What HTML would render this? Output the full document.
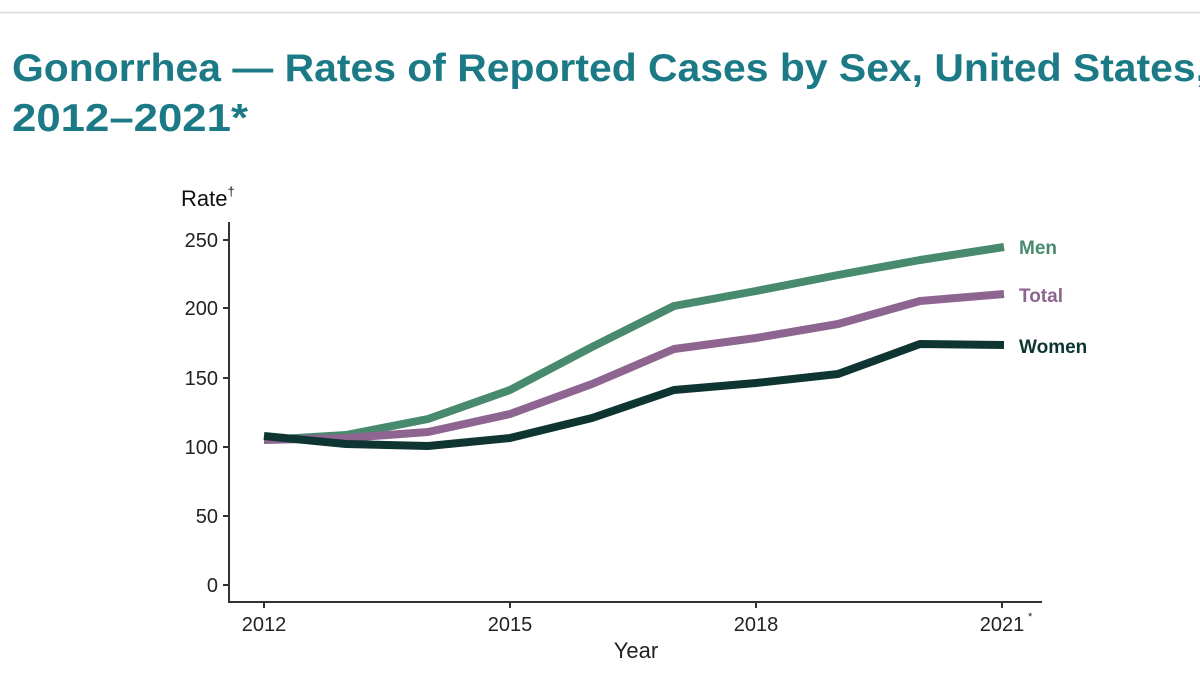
<!DOCTYPE html>
<html><head><meta charset="utf-8"><style>
html,body{margin:0;padding:0;background:#fff;}
svg{display:block;font-family:"Liberation Sans",sans-serif;}
</style></head><body>
<svg width="1200" height="675" viewBox="0 0 1200 675" xmlns="http://www.w3.org/2000/svg">
<line x1="0" y1="12.5" x2="1200" y2="12.5" stroke="#d9d9d9" stroke-width="1.5"/>
<text x="12" y="81" font-size="39" font-weight="bold" fill="#1c7a86" textLength="1195" lengthAdjust="spacingAndGlyphs">Gonorrhea — Rates of Reported Cases by Sex, United States,</text>
<text x="12" y="131" font-size="39" font-weight="bold" fill="#1c7a86" textLength="236" lengthAdjust="spacingAndGlyphs">2012–2021*</text>
<text x="181" y="206" font-size="22" fill="#111">Rate<tspan font-size="13" dy="-10">†</tspan></text>
<g stroke="#333" stroke-width="2" fill="none">
<line x1="229" y1="222" x2="229" y2="602"/>
<line x1="228" y1="602" x2="1042" y2="602"/>
<line x1="223" y1="240" x2="229" y2="240"/>
<line x1="223" y1="308" x2="229" y2="308"/>
<line x1="223" y1="378" x2="229" y2="378"/>
<line x1="223" y1="447" x2="229" y2="447"/>
<line x1="223" y1="516" x2="229" y2="516"/>
<line x1="223" y1="585" x2="229" y2="585"/>
<line x1="264" y1="602" x2="264" y2="608"/>
<line x1="510" y1="602" x2="510" y2="608"/>
<line x1="756" y1="602" x2="756" y2="608"/>
<line x1="1002" y1="602" x2="1002" y2="608"/>
</g>
<g font-size="20" fill="#222" text-anchor="end">
<text x="218" y="247">250</text>
<text x="218" y="315">200</text>
<text x="218" y="385">150</text>
<text x="218" y="454">100</text>
<text x="218" y="523">50</text>
<text x="218" y="592">0</text>
</g>
<g font-size="20" fill="#222" text-anchor="middle">
<text x="264" y="631">2012</text>
<text x="510" y="631">2015</text>
<text x="756" y="631">2018</text>
<text x="1002" y="631">2021</text>
</g>
<text x="1028" y="620" font-size="11" fill="#222">*</text>
<text x="636" y="658" font-size="22" fill="#222" text-anchor="middle">Year</text>
<g fill="none" stroke-width="8" stroke-linejoin="round">
<polyline stroke="#478a6e" points="264,440 346,435 428,419 510,390 592,347 674,306 756,291 838,275 920,260 1004,247"/>
<polyline stroke="#8e6590" points="264,440 346,438 428,432 510,414 592,384 674,349 756,338 838,324 920,301 1004,294"/>
<polyline stroke="#0e3532" points="264,436 346,444 428,446 510,438 592,418 674,390 756,383 838,374 920,344 1004,345"/>
</g>
<g font-size="19" font-weight="bold">
<text x="1019" y="254" fill="#478a6e">Men</text>
<text x="1019" y="302" fill="#8e6590">Total</text>
<text x="1019" y="353" fill="#0e3532">Women</text>
</g>
</svg>
</body></html>
